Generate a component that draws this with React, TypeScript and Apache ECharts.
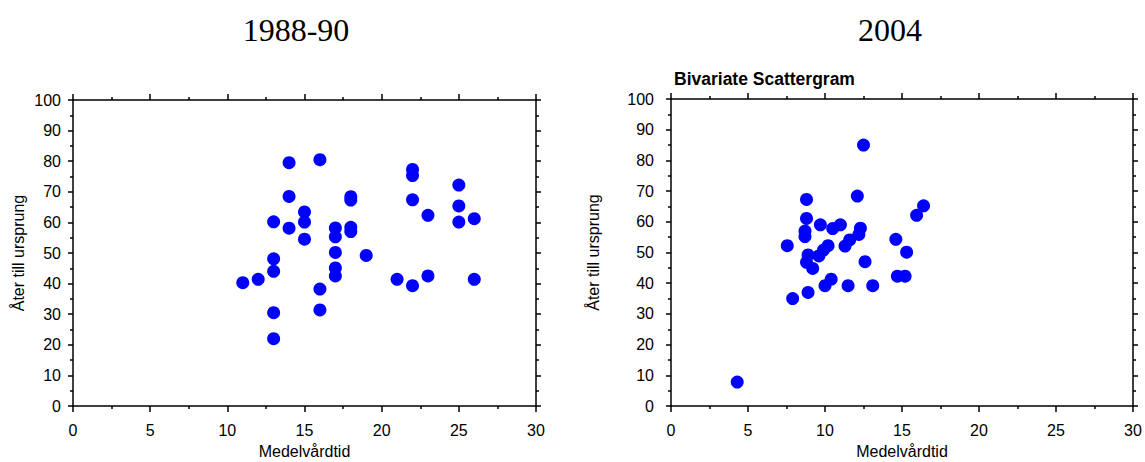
import React, { useEffect, useRef } from "react";
import * as echarts from "echarts";

// Panel 1: 1988-90
const xs1988: number[] = [11, 12, 13, 13, 13, 13, 13, 14, 14, 14, 15, 15, 15, 16, 16, 16, 17, 17, 17, 17, 17, 18, 18, 18, 18, 19, 21, 22, 22, 22, 22, 23, 23, 25, 25, 25, 26, 26];
const ys1988: number[] = [40.3, 41.4, 60.2, 48.1, 44, 30.5, 22, 79.5, 68.5, 58.1, 63.4, 60.1, 54.5, 80.5, 38.2, 31.4, 58.2, 55.3, 50.2, 45.1, 42.5, 68.4, 67.3, 58.4, 57, 49.2, 41.4, 77.3, 75.3, 67.4, 39.3, 62.3, 42.5, 72.2, 65.4, 60.1, 61.2, 41.4];

// Panel 2: 2004
const xs2004: number[] = [4.3, 7.55, 7.9, 8.8, 8.8, 8.7, 8.7, 8.9, 8.8, 8.9, 9.2, 9.6, 9.7, 9.9, 10.2, 10.0, 10.4, 10.5, 11.0, 11.3, 11.6, 11.5, 12.1, 12.3, 12.2, 12.5, 12.6, 13.1, 14.6, 14.7, 15.2, 15.3, 15.95, 16.4];
const ys2004: number[] = [7.8, 52.2, 35, 67.3, 61.1, 57, 55.2, 49.2, 46.8, 37, 44.8, 48.9, 59, 50.8, 52.2, 39.2, 41.3, 57.8, 59, 52.1, 54.1, 39.2, 68.4, 57.9, 55.9, 85, 47, 39.2, 54.3, 42.3, 42.3, 50.1, 62.1, 65.2];

const panelTitles: string[] = ["1988-90", "2004"];
const subTitle = "Bivariate Scattergram";
const xName = "Medelvårdtid";
const yName = "Åter till ursprung";

const FONT = "'Liberation Sans', Arial, Helvetica, sans-serif";
const SERIF = "'Liberation Serif', 'Times New Roman', serif";
const lineStyle = { color: "#000", width: 1.5 };

function xAxisPair(gridIndex: number) {
  const base = {
    type: "value",
    gridIndex,
    min: 0,
    max: 30,
    interval: 5,
    splitLine: { show: false },
    minorSplitLine: { show: false },
    axisLine: { show: true, onZero: false, lineStyle },
    axisTick: { show: true, inside: false, length: 6, lineStyle },
    minorTick: { show: true, splitNumber: 2, length: 3, lineStyle },
  };
  return [
    {
      ...base,
      position: "bottom",
      axisLabel: { show: true, color: "#000", fontSize: 16, fontFamily: FONT, margin: 16 },
      name: xName,
      nameLocation: "middle",
      nameGap: 37,
      nameTextStyle: { color: "#000", fontSize: 16, fontFamily: FONT },
    },
    { ...base, position: "top", axisLabel: { show: false } },
  ];
}

function yAxisPair(gridIndex: number, labelMargin: number, nameGap: number) {
  const base = {
    type: "value",
    gridIndex,
    min: 0,
    max: 100,
    interval: 10,
    splitLine: { show: false },
    minorSplitLine: { show: false },
    axisLine: { show: true, onZero: false, lineStyle },
    axisTick: { show: true, inside: false, length: 5, lineStyle },
    minorTick: { show: true, splitNumber: 2, length: 3, lineStyle },
  };
  return [
    {
      ...base,
      position: "left",
      axisLabel: { show: true, color: "#000", fontSize: 16, fontFamily: FONT, margin: labelMargin },
      name: yName,
      nameLocation: "middle",
      nameGap,
      nameTextStyle: { color: "#000", fontSize: 16, fontFamily: FONT },
    },
    { ...base, position: "right", axisLabel: { show: false } },
  ];
}

export default function App() {
  const ref = useRef<HTMLDivElement>(null);
  useEffect(() => {
    if (!ref.current) return;
    const chart = echarts.init(ref.current, undefined, { renderer: "svg" });
    const d1 = xs1988.map((x, i) => [x, ys1988[i]]);
    const d2 = xs2004.map((x, i) => [x, ys2004[i]]);
    chart.setOption({
      animation: false,
      backgroundColor: "#fff",
      grid: [
        { left: 73, top: 100, width: 463, height: 306, containLabel: false, outerBoundsMode: "none" },
        { left: 671, top: 99, width: 462, height: 307, containLabel: false, outerBoundsMode: "none" },
      ],
      xAxis: [...xAxisPair(0), ...xAxisPair(1)],
      yAxis: [...yAxisPair(0, 12, 47), ...yAxisPair(1, 17, 70)],
      graphic: [
        {
          type: "text",
          x: 296,
          y: 30,
          style: {
            text: panelTitles[0],
            align: "center",
            verticalAlign: "middle",
            fontSize: 32,
            fontFamily: SERIF,
            fill: "#000",
          },
        },
        {
          type: "text",
          x: 890,
          y: 30,
          style: {
            text: panelTitles[1],
            align: "center",
            verticalAlign: "middle",
            fontSize: 32,
            fontFamily: SERIF,
            fill: "#000",
          },
        },
        {
          type: "text",
          x: 674,
          y: 79,
          style: {
            text: subTitle,
            align: "left",
            verticalAlign: "middle",
            fontSize: 17.5,
            fontWeight: "bold",
            fontFamily: FONT,
            fill: "#000",
          },
        },
      ],
      series: [
        {
          type: "scatter",
          xAxisIndex: 0,
          yAxisIndex: 0,
          data: d1,
          symbol: "circle",
          symbolSize: 13,
          itemStyle: { color: "#0000ff", opacity: 1 },
        },
        {
          type: "scatter",
          xAxisIndex: 2,
          yAxisIndex: 2,
          data: d2,
          symbol: "circle",
          symbolSize: 13,
          itemStyle: { color: "#0000ff", opacity: 1 },
        },
      ],
    });
    return () => chart.dispose();
  }, []);
  return (
    <div
      ref={ref}
      style={{ position: "fixed", left: 0, top: 0, width: 1145, height: 462, background: "#fff" }}
    />
  );
}
